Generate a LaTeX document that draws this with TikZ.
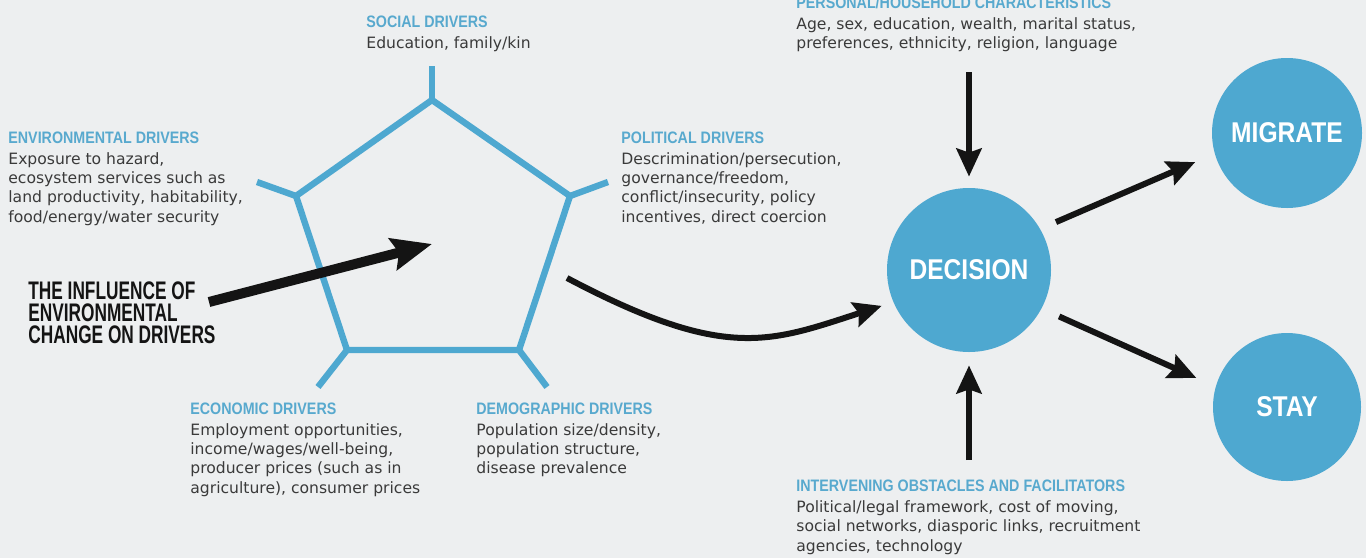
\documentclass[tikz,border=0pt]{standalone}
\usepackage{fontspec}
\setmainfont{DejaVu Sans}
\newfontfamily\headfont[FakeStretch=0.86]{Liberation Sans}
\newfontfamily\inflfont[FakeStretch=0.68]{Liberation Sans}
\usetikzlibrary{arrows.meta,calc}
\definecolor{paper}{HTML}{EDEFF0}
\definecolor{drvblue}{HTML}{4EA8D0}
\definecolor{headblue}{HTML}{58A9CE}
\definecolor{bodygray}{HTML}{3A3A3A}
\definecolor{ink}{HTML}{141414}
\newcommand{\drvhead}[1]{{\color{headblue}\headfont\bfseries\fontsize{8.3pt}{9.65pt}\selectfont #1}}

\begin{document}
\begin{tikzpicture}[x=0.5pt,y=-0.5pt,drv/.style={draw=drvblue,line width=3.2pt,line join=miter},blob/.style={circle,fill=drvblue,text=white,inner sep=0pt,font=\headfont\bfseries\fontsize{14.3pt}{14.3pt}\selectfont},lbl/.style={anchor=base west,align=left,inner sep=0pt,text=bodygray,font=\fontsize{7.8pt}{9.65pt}\selectfont},arr/.style={-{Stealth[length=14pt,width=12.5pt,inset=2pt]},line width=3pt,draw=ink},bigarr/.style={-{Stealth[length=20pt,width=16pt,inset=3pt]},line width=5pt,draw=ink}]
\useasboundingbox (0,0) rectangle (1366,558);
\fill[paper] (0,0) rectangle (1366,558);
\coordinate (pt) at (432,100);\coordinate (pur) at (570,196);\coordinate (plr) at (519,350);\coordinate (pll) at (347,350);\coordinate (pul) at (296,196);
\draw[drv] (pt) -- (pur) -- (plr) -- (pll) -- (pul) -- cycle;
\draw[drv] (pt) -- ++(0,-34);\draw[drv] (pul) -- ++(-39,-14);\draw[drv] (pur) -- ++(38,-14);\draw[drv] (pll) -- ++(-29,37);\draw[drv] (plr) -- ++(28,37);
\node[lbl] (soc) at (366,48) {\drvhead{SOCIAL DRIVERS}\\[0.85pt] Education, family/kin};
\node[lbl] (env) at (8,222) {\drvhead{ENVIRONMENTAL DRIVERS}\\[0.85pt] Exposure to hazard,\\ ecosystem services such as\\ land productivity, habitability,\\ food/energy/water security};
\node[lbl] (pol) at (621,222) {\drvhead{POLITICAL DRIVERS}\\[0.85pt] Descrimination/persecution,\\ governance/freedom,\\ conflict/insecurity, policy\\ incentives, direct coercion};
\node[lbl] (eco) at (190,493) {\drvhead{ECONOMIC DRIVERS}\\[0.85pt] Employment opportunities,\\ income/wages/well-being,\\ producer prices (such as in\\ agriculture), consumer prices};
\node[lbl] (demo) at (476,473.6) {\drvhead{DEMOGRAPHIC DRIVERS}\\[0.85pt] Population size/density,\\ population structure,\\ disease prevalence};
\node[lbl] (pers) at (796,48.5) {\drvhead{PERSONAL/HOUSEHOLD CHARACTERISTICS}\\[0.85pt] Age, sex, education, wealth, marital status,\\ preferences, ethnicity, religion, language};
\node[lbl] (obst) at (796,551) {\drvhead{INTERVENING OBSTACLES AND FACILITATORS}\\[0.85pt] Political/legal framework, cost of moving,\\ social networks, diasporic links, recruitment\\ agencies, technology};
\node[lbl,text=ink,font=\inflfont\bfseries\fontsize{12.7pt}{10.9pt}\selectfont] (infl) at (28,343) {THE INFLUENCE OF\\ ENVIRONMENTAL\\ CHANGE ON DRIVERS};
\node[blob,minimum size=82pt] (dec) at (969,270) {DECISION};
\node[blob,minimum size=75pt] (mig) at (1287,133) {MIGRATE};
\node[blob,minimum size=74pt] (stay) at (1287,407) {STAY};
\coordinate (infltail) at (209,302);\coordinate (inflhead) at (432,244);\coordinate (pentout) at (567,278);\coordinate (perstail) at (969,72);\coordinate (obsttail) at (969,460);
\draw[bigarr] (infltail) -- (inflhead);
\draw[arr,shorten >=6pt] (pentout) .. controls (726,362) and (770,342) .. (dec.203);
\draw[arr,shorten >=5.5pt] (perstail) -- (dec.north);\draw[arr,shorten >=6.5pt] (obsttail) -- (dec.south);
\draw[arr,shorten <=8.5pt,shorten >=10.5pt] (dec.30) -- (mig.196);\draw[arr,shorten <=9.5pt,shorten >=10.5pt] (dec.-28) -- (stay.164);
\end{tikzpicture}
\end{document}
